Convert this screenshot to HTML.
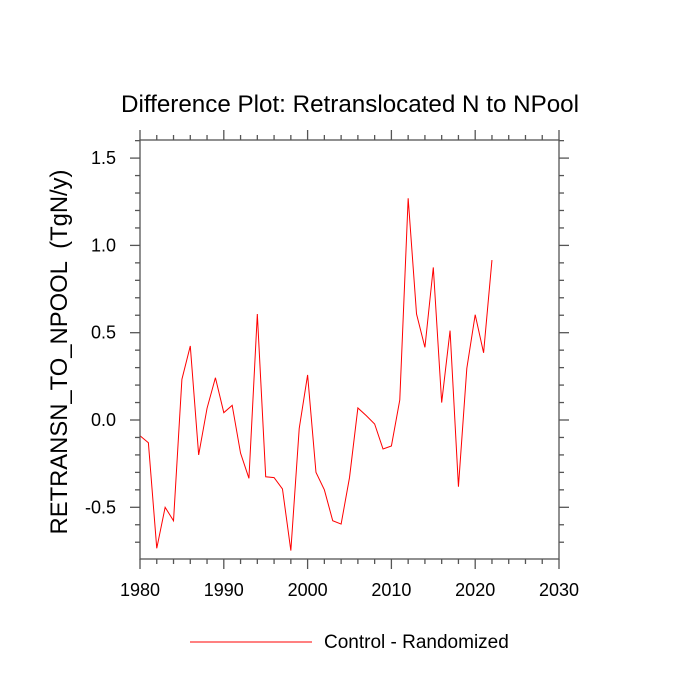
<!DOCTYPE html>
<html><head><meta charset="utf-8"><style>body{margin:0;background:#fff}svg{display:block;font-family:"Liberation Sans",sans-serif}</style></head>
<body>
<svg id="chart" width="700" height="700" viewBox="0 0 700 700">
<text x="350" y="112" font-size="24.2" text-anchor="middle">Difference Plot: Retranslocated N to NPool</text>
<text transform="translate(67,352) rotate(-90)" font-size="23.8" text-anchor="middle" xml:space="preserve" style="white-space:pre">RETRANSN_TO_NPOOL  (TgN/y)</text>
<g id="axes"></g>
<polyline id="series" fill="none" stroke="#ff0000" stroke-width="1"/>
<rect x="140" y="140" width="419" height="419" fill="none" stroke="#555" stroke-width="1.3"/>
<line x1="190" y1="642" x2="312" y2="642" stroke="#ff0000" stroke-width="1"/>
<text x="324" y="648" font-size="19">Control - Randomized</text>
</svg>
<script>
const years=[1980,1981,1982,1983,1984,1985,1986,1987,1988,1989,1990,1991,1992,1993,1994,1995,1996,1997,1998,1999,2000,2001,2002,2003,2004,2005,2006,2007,2008,2009,2010,2011,2012,2013,2014,2015,2016,2017,2018,2019,2020,2021,2022];
const values=[-0.09,-0.13,-0.735,-0.5,-0.577,0.233,0.424,-0.2,0.067,0.242,0.042,0.084,-0.19,-0.334,0.607,-0.325,-0.33,-0.395,-0.748,-0.048,0.258,-0.3,-0.4,-0.577,-0.596,-0.33,0.069,0.025,-0.023,-0.166,-0.149,0.115,1.27,0.607,0.416,0.874,0.1,0.512,-0.382,0.296,0.603,0.385,0.916];
const xTicks=[1980,1990,2000,2010,2020,2030];
const yTicks=[-0.5,0.0,0.5,1.0,1.5];
const yTickLabels=["-0.5","0.0","0.5","1.0","1.5"];
const X=v=>140+(v-1980)*419/50;
const Y=v=>420-v*174.6;
const NS="http://www.w3.org/2000/svg";
const ax=document.getElementById('axes');
function ln(x1,y1,x2,y2,name){const l=document.createElementNS(NS,'line');l.setAttribute('x1',x1);l.setAttribute('y1',y1);l.setAttribute('x2',x2);l.setAttribute('y2',y2);l.setAttribute('stroke','#555');l.setAttribute('stroke-width','1.3');


ax.appendChild(l);}
function tx(x,y,s,anchor,name){const t=document.createElementNS(NS,'text');t.setAttribute('x',x);t.setAttribute('y',y);t.setAttribute('font-size','18');t.setAttribute('text-anchor',anchor);t.textContent=s;


ax.appendChild(t);}
xTicks.forEach(v=>{const x=X(v);ln(x,559,x,569,'x-tick');ln(x,140,x,130,'x-tick-top');tx(x,596,String(v),'middle','x-tick-label');});
for(let y=1982;y<2030;y+=2){if(y%10===0)continue;const x=X(y);ln(x,559,x,564,'x-minor-tick');ln(x,140,x,135,'x-minor-tick-top');}
yTicks.forEach((v,i)=>{const y=Y(v);ln(140,y,130,y,'y-tick');ln(559,y,569,y,'y-tick-right');tx(116,y+6,yTickLabels[i],'end','y-tick-label');});
for(let k=-7;k<=16;k++){if(k%5===0)continue;const y=Y(k/10);ln(140,y,135,y,'y-minor-tick');ln(559,y,564,y,'y-minor-tick-right');}
document.getElementById('series').setAttribute('points',years.map((yr,i)=>X(yr)+','+Y(values[i])).join(' '));
</script>
</body></html>
